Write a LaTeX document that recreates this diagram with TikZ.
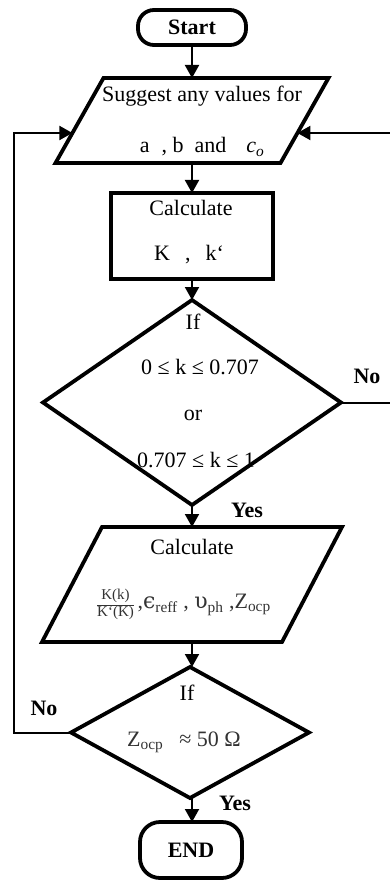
\documentclass[tikz,border=0pt]{standalone}
\usepackage{fontspec}
\setmainfont{Liberation Serif}
\newfontfamily\gfont{DejaVu Serif}
\usetikzlibrary{shapes.geometric,arrows.meta}
\newcommand\kfrac{{\fontsize{15}{16}\selectfont\setlength{\tabcolsep}{0pt}\renewcommand{\arraystretch}{1.05}\begin{tabular}{c}K(k)\\\hline K`(K)\end{tabular}}}
\begin{document}
\begin{tikzpicture}[x=1pt,y=-1pt,
  shapebox/.style={draw, line width=3.8pt, inner sep=0pt, outer sep=0pt},
  term/.style={shapebox, font=\bfseries\fontsize{22}{26}\selectfont},
  dec/.style={shapebox, diamond},
  conn/.style={line width=2pt},
  arr/.style={conn, -{Triangle[width=14pt,length=13pt]}},
  txt/.style={inner sep=0pt, font=\fontsize{22}{26}\selectfont},
  lbl/.style={inner sep=0pt, font=\bfseries\fontsize{22}{26}\selectfont}]
\useasboundingbox (0,0) rectangle (390,882);

% shapes
\node[term, rounded corners=16pt, minimum width=108pt, minimum height=35pt] (start) at (192,27.5) {Start};
% parallelogram 1
\draw[shapebox] (55.5,163) -- (280.5,163) -- (328.5,78) -- (103.5,78) -- cycle;
\coordinate (p1n) at (192,78);
\coordinate (p1s) at (192,163);
\coordinate (p1in) at (72.4,133);
\coordinate (p1rin) at (297.4,133);
\node[shapebox, line width=4.2pt, minimum width=162pt, minimum height=86pt] (calc1) at (192,236) {};
\node[dec, minimum width=298pt, minimum height=205pt] (d1) at (192,402.5) {};
% parallelogram 2
\draw[shapebox] (42,642) -- (282,642) -- (342,527) -- (102,527) -- cycle;
\coordinate (p2n) at (192,527);
\coordinate (p2s) at (192,642);
\node[dec, minimum width=238pt, minimum height=131pt] (d2) at (190,732.5) {};
\node[term, rounded corners=20pt, minimum width=102pt, minimum height=56pt] (stop) at (191,850) {END};

% texts
\node[txt] (t1) at (202,96) {Suggest any values for};
\node[txt] (t2) at (202,147) {a\hspace{12pt}, b\hspace{11pt}and\hspace{20pt}\textit{c}\textsubscript{\textit{o}}};
\node[txt] (t3) at (191,208) {Calculate};
\node[txt] (t4) at (189,255) {K\hspace{15pt},\hspace{15pt}k`};
\node[txt] (t5) at (193,322) {If};
\node[txt] (t6) at (200,367) {0 ≤ k ≤ 0.707};
\node[txt] (t7) at (193,415) {or};
\node[txt] (t8) at (196,460) {0.707 ≤ k ≤ 1};
\node[txt] (t9) at (192,547) {Calculate};
\node[txt, text=black!80] (t10) at (184,605) {\kfrac\,,{\gfont ϵ}\textsubscript{reff} , {\gfont υ}\textsubscript{ph} ,Z\textsubscript{ocp}};
\node[txt] (t11) at (187,693) {If};
\node[txt, text=black!80] (t12) at (184,742) {Z\textsubscript{ocp}\hspace{16pt}≈ 50 Ω};

% labels
\node[lbl] (no1) at (367,376) {No};
\node[lbl] (yes1) at (247,510) {Yes};
\node[lbl] (no2) at (44,708) {No};
\node[lbl] (yes2) at (235,803) {Yes};

% connectors
\coordinate (rx) at (391.5,133);
\draw[arr] (start.south) -- (p1n);
\draw[arr] (p1s) -- (calc1.north);
\draw[arr] (calc1.south) -- (d1.north);
\draw[arr] (d1.south) -- (p2n);
\draw[arr] (p2s) -- (d2.north -| p2s);
\draw[arr] (d2.south -| p2s) -- (stop.north -| p2s);
\draw[arr] (d2.west) -- ++(-57,0) |- (p1in);
\draw[arr] (d1.east) -| (rx) -- (p1rin);
\end{tikzpicture}
\end{document}
